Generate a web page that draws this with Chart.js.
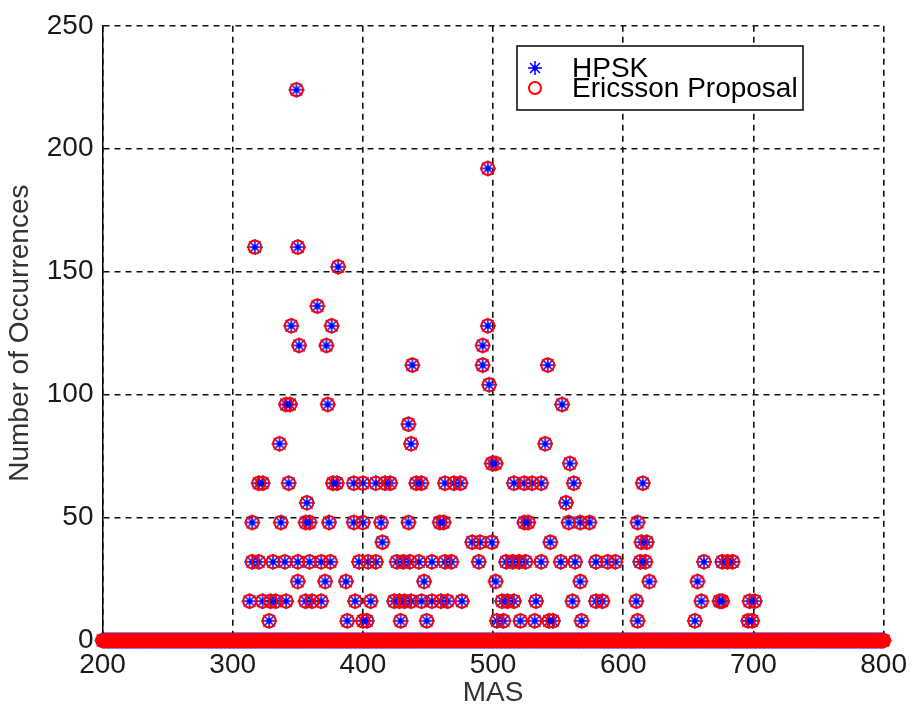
<!DOCTYPE html>
<html>
<head>
<meta charset="utf-8">
<script src="https://cdn.jsdelivr.net/npm/chart.js@4.4.0/dist/chart.umd.min.js"></script>
<style>
  html, body { margin: 0; padding: 0; background: #fff; }
</style>
</head>
<body>
<canvas id="chart" width="915" height="716"></canvas>
<script>
// occurrence levels that carry markers (one row of markers per level)
const rowCounts = [224, 192, 160, 152, 136, 128, 120, 112, 104, 96, 88, 80, 72, 64, 56, 48, 40, 32, 24, 16, 8];

// MAS of each marker, one list per entry of rowCounts
const rowMas = [
  [349],
  [496],
  [317, 350],
  [381],
  [365],
  [345, 376, 496],
  [351, 372, 492],
  [438, 492, 542],
  [497],
  [341, 344, 373, 553],
  [435],
  [336, 437, 540],
  [499, 502, 559],
  [320, 323, 343, 377, 380, 393, 400, 410, 417, 421, 441, 445, 463, 470, 475, 516, 524, 530, 537, 562, 615],
  [357, 556],
  [315, 337, 356, 359, 374, 393, 400, 414, 435, 459, 462, 524, 527, 558, 567, 574, 611],
  [415, 484, 490, 499, 544, 614, 618],
  [315, 320, 331, 340, 350, 359, 368, 375, 397, 404, 410, 426, 431, 436, 443, 453, 463, 468, 489, 510, 515, 520, 525, 537, 552, 563, 579, 588, 594, 613, 617, 662, 676, 680, 684],
  [350, 371, 387, 447, 502, 567, 620, 657],
  [313, 323, 329, 333, 341, 356, 361, 368, 394, 406, 424, 428, 432, 437, 445, 453, 460, 465, 476, 507, 511, 516, 533, 561, 579, 584, 610, 660, 674, 676, 697, 701],
  [328, 388, 400, 403, 429, 449, 503, 508, 521, 532, 543, 546, 568, 611, 655, 696, 699]
];

// zero occurrences: solid band of markers over the whole MAS axis
const zeroMasFrom = 200;
const zeroMasTo = 800;

const xTicks = [200, 300, 400, 500, 600, 700, 800];
const yTicks = [0, 50, 100, 150, 200, 250];

const seriesNames = ["HPSK", "Ericsson Proposal"];

function buildPoints() {
  const pts = [];
  for (let m = zeroMasFrom; m <= zeroMasTo; m++) pts.push({ x: m, y: 0 });
  rowCounts.forEach((c, i) => rowMas[i].forEach(m => pts.push({ x: m, y: c })));
  return pts;
}

// both series land on the same spots in the figure
const hpskPoints = buildPoints();
const ericssonPoints = buildPoints();

const FONT = "'Liberation Sans', Arial, sans-serif";

function drawStar(ctx, x, y, r) {
  ctx.beginPath();
  for (let k = 0; k < 4; k++) {
    const a = k * Math.PI / 4;
    ctx.moveTo(x - Math.cos(a) * r, y - Math.sin(a) * r);
    ctx.lineTo(x + Math.cos(a) * r, y + Math.sin(a) * r);
  }
  ctx.stroke();
  ctx.beginPath();
  ctx.arc(x, y, 2.6, 0, Math.PI * 2);
  ctx.fill();
}

// matlab-ish asterisk: 8 spokes with a solid middle
function makeStarSprite(r) {
  const c = document.createElement("canvas");
  c.width = c.height = 2 * r + 4;
  const g = c.getContext("2d");
  g.strokeStyle = g.fillStyle = "#0000ff";
  g.lineWidth = 1.5;
  drawStar(g, c.width / 2, c.height / 2, r);
  return c;
}
const starSprite = makeStarSprite(8);

const legendBox = {
  id: "legendBox",
  afterDraw(chart) {
    const ctx = chart.ctx;
    ctx.save();
    ctx.fillStyle = "#fff";
    ctx.fillRect(517, 46, 286, 64);
    ctx.strokeStyle = "#000";
    ctx.lineWidth = 1.5;
    ctx.strokeRect(517, 46, 286, 64);

    ctx.strokeStyle = ctx.fillStyle = "#0000ff";
    drawStar(ctx, 535, 68, 7);
    ctx.strokeStyle = "#ff0000";
    ctx.lineWidth = 2;
    ctx.beginPath();
    ctx.arc(535, 88, 6, 0, Math.PI * 2);
    ctx.stroke();

    ctx.fillStyle = "#000";
    ctx.font = "28px " + FONT;
    ctx.textBaseline = "middle";
    ctx.fillText(seriesNames[0], 572, 69);
    ctx.fillText(seriesNames[1], 572, 89);
    ctx.restore();
  }
};

new Chart(document.getElementById("chart"), {
  type: "scatter",
  data: {
    datasets: [
      {
        label: seriesNames[0],
        data: hpskPoints,
        pointStyle: starSprite,
        pointRadius: 8,
        borderColor: "#0000ff",
        backgroundColor: "#0000ff",
        clip: false,
        order: 1
      },
      {
        label: seriesNames[1],
        data: ericssonPoints,
        pointStyle: "circle",
        pointRadius: 6.5,
        pointBorderWidth: 2,
        borderColor: "#ff0000",
        backgroundColor: "rgba(0,0,0,0)",
        clip: false,
        order: 0
      }
    ]
  },
  options: {
    responsive: false,
    animation: false,
    events: [],
    layout: { padding: { top: 23, right: 28, bottom: 0, left: 0 } },
    plugins: {
      legend: { display: false },
      tooltip: { enabled: false }
    },
    scales: {
      x: {
        type: "linear",
        min: xTicks[0],
        max: xTicks[xTicks.length - 1],
        afterBuildTicks: s => { s.ticks = xTicks.map(v => ({ value: v })); },
        afterFit: s => { s.height = 75.5; },
        ticks: { color: "#1a1a1a", padding: 8, font: { family: FONT, size: 28 } },
        grid: { color: "#111", lineWidth: 1.6, drawTicks: false },
        border: { display: true, color: "#000", width: 1.5, dash: [6, 5] },
        title: {
          display: true, text: "MAS", color: "#333",
          font: { family: FONT, size: 28 }, padding: { top: 0, bottom: 6 }
        }
      },
      y: {
        type: "linear",
        min: yTicks[0],
        max: yTicks[yTicks.length - 1],
        afterBuildTicks: s => { s.ticks = yTicks.map(v => ({ value: v })); },
        afterFit: s => { s.width = 102.5; },
        ticks: { color: "#1a1a1a", padding: 9, font: { family: FONT, size: 28 } },
        grid: { color: "#111", lineWidth: 1.6, drawTicks: false },
        border: { display: true, color: "#000", width: 1.5, dash: [6, 5] },
        title: {
          display: true, text: "Number of Occurrences", color: "#333",
          font: { family: FONT, size: 28 }, padding: { top: 3, bottom: 0 }
        }
      }
    }
  },
  plugins: [legendBox]
});
</script>
</body>
</html>
